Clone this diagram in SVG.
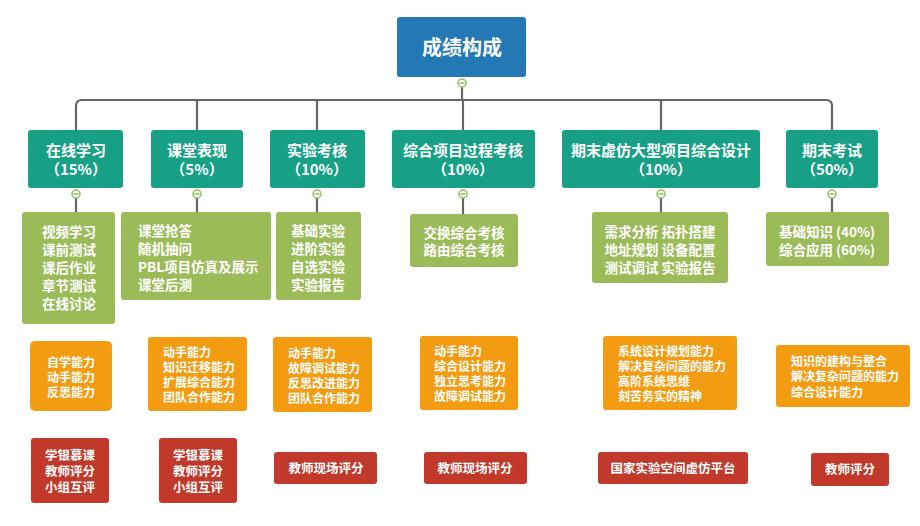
<svg xmlns="http://www.w3.org/2000/svg" width="920" height="526" viewBox="0 0 920 526">
<style>
text{font-family:"Noto Sans CJK SC","Microsoft YaHei",sans-serif;font-weight:bold;fill:#fff}
.root rect{fill:#2479B5}
.l1 rect{fill:#17A085}
.l2 rect{fill:#9BBB59}
.l3 rect{fill:#F39C12}
.l4 rect{fill:#C0392B}
.t1{font-size:15px}
.t2{font-size:13.5px}
.t3{font-size:12px}
.t4{font-size:12.5px}
.c{text-anchor:middle}
.conn path{fill:none;stroke:#666;stroke-width:2.2}
.tog circle{fill:#fff;stroke:#8DC25A;stroke-width:1.5}
.tog path{stroke:#8DC25A;stroke-width:1.5}
</style>
<g class="conn">
<path d="M462 86V100"/>
<path d="M76 130V106Q76 100 82 100H826Q832 100 832 106V130"/>
<path d="M197 100V130M317 100V130M463 100V130M661 100V130"/>
<path d="M76 198V212M197 198V212M317 198V212M463 198V214M661 198V212M832 198V212"/>
</g>
<g class="tog">
<circle cx="462" cy="83" r="4"/><path d="M459.5 83H464.5"/>
<circle cx="76" cy="194" r="4"/><path d="M73.5 194H78.5"/>
<circle cx="197" cy="194" r="4"/><path d="M194.5 194H199.5"/>
<circle cx="317" cy="194" r="4"/><path d="M314.5 194H319.5"/>
<circle cx="463" cy="194" r="4"/><path d="M460.5 194H465.5"/>
<circle cx="661" cy="194" r="4"/><path d="M658.5 194H663.5"/>
<circle cx="832" cy="194" r="4"/><path d="M829.5 194H834.5"/>
</g>
<g id="root" class="root"><rect x="397" y="17" width="129" height="60" rx="3"/><text class="c" x="462" y="55" font-size="20">成绩构成</text></g>
<g id="n1" class="l1"><rect x="28" y="130" width="95" height="58" rx="3"/><text class="t1 c" x="76" y="156">在线学习</text><text class="t1 c" x="76" y="175">（15%）</text></g>
<g id="n2" class="l1"><rect x="151" y="130" width="92" height="58" rx="3"/><text class="t1 c" x="197" y="156">课堂表现</text><text class="t1 c" x="197" y="175">（5%）</text></g>
<g id="n3" class="l1"><rect x="270" y="130" width="95" height="58" rx="3"/><text class="t1 c" x="317" y="156">实验考核</text><text class="t1 c" x="317" y="175">（10%）</text></g>
<g id="n4" class="l1"><rect x="392" y="130" width="143" height="58" rx="3"/><text class="t1 c" x="463" y="156">综合项目过程考核</text><text class="t1 c" x="463" y="175">（10%）</text></g>
<g id="n5" class="l1"><rect x="562" y="130" width="198" height="58" rx="3"/><text class="t1 c" x="661" y="156">期末虚仿大型项目综合设计</text><text class="t1 c" x="661" y="175">（10%）</text></g>
<g id="n6" class="l1"><rect x="786" y="130" width="92" height="58" rx="3"/><text class="t1 c" x="832" y="156">期末考试</text><text class="t1 c" x="832" y="175">（50%）</text></g>

<g id="g1" class="l2"><rect x="22" y="212" width="93" height="112" rx="3"/><text class="t2 c" x="69"><tspan x="69" y="237">视频学习</tspan><tspan x="69" y="255">课前测试</tspan><tspan x="69" y="273">课后作业</tspan><tspan x="69" y="291">章节测试</tspan><tspan x="69" y="309">在线讨论</tspan></text></g>
<g id="g2" class="l2"><rect x="121" y="212" width="150" height="88" rx="3"/><text class="t2"><tspan x="138" y="236">课堂抢答</tspan><tspan x="138" y="254">随机抽问</tspan><tspan x="138" y="272">PBL项目仿真及展示</tspan><tspan x="138" y="290">课堂后测</tspan></text></g>
<g id="g3" class="l2"><rect x="276" y="212" width="85" height="88" rx="3"/><text class="t2 c"><tspan x="318" y="236">基础实验</tspan><tspan x="318" y="254">进阶实验</tspan><tspan x="318" y="272">自选实验</tspan><tspan x="318" y="290">实验报告</tspan></text></g>
<g id="g4" class="l2"><rect x="410" y="214" width="108" height="53" rx="3"/><text class="t2 c"><tspan x="464" y="238">交换综合考核</tspan><tspan x="464" y="255">路由综合考核</tspan></text></g>
<g id="g5" class="l2"><rect x="592" y="212" width="136" height="71" rx="3"/><text class="t2 c"><tspan x="660" y="237">需求分析 拓扑搭建</tspan><tspan x="660" y="255">地址规划 设备配置</tspan><tspan x="660" y="273">测试调试 实验报告</tspan></text></g>
<g id="g6" class="l2"><rect x="766" y="212" width="123" height="54" rx="3"/><text class="t2 c"><tspan x="827" y="237">基础知识 (40%)</tspan><tspan x="827" y="255">综合应用 (60%)</tspan></text></g>

<g id="o1" class="l3"><rect x="30" y="341" width="82" height="70" rx="5"/><text class="t3 c"><tspan x="71" y="367">自学能力</tspan><tspan x="71" y="382">动手能力</tspan><tspan x="71" y="397">反思能力</tspan></text></g>
<g id="o2" class="l3"><rect x="148" y="337" width="99" height="74" rx="3"/><text class="t3"><tspan x="163" y="357">动手能力</tspan><tspan x="163" y="372">知识迁移能力</tspan><tspan x="163" y="387">扩展综合能力</tspan><tspan x="163" y="402">团队合作能力</tspan></text></g>
<g id="o3" class="l3"><rect x="273" y="337" width="99" height="75" rx="3"/><text class="t3"><tspan x="288" y="358">动手能力</tspan><tspan x="288" y="373">故障调试能力</tspan><tspan x="288" y="388">反思改进能力</tspan><tspan x="288" y="403">团队合作能力</tspan></text></g>
<g id="o4" class="l3"><rect x="420" y="336" width="98" height="74" rx="3"/><text class="t3"><tspan x="434" y="356">动手能力</tspan><tspan x="434" y="371">综合设计能力</tspan><tspan x="434" y="386">独立思考能力</tspan><tspan x="434" y="401">故障调试能力</tspan></text></g>
<g id="o5" class="l3"><rect x="603" y="336" width="134" height="74" rx="3"/><text class="t3"><tspan x="618" y="356">系统设计规划能力</tspan><tspan x="618" y="371">解决复杂问题的能力</tspan><tspan x="618" y="386">高阶系统思维</tspan><tspan x="618" y="401">刻苦务实的精神</tspan></text></g>
<g id="o6" class="l3"><rect x="776" y="345" width="134" height="62" rx="3"/><text class="t3"><tspan x="791" y="366">知识的建构与整合</tspan><tspan x="791" y="381">解决复杂问题的能力</tspan><tspan x="791" y="397">综合设计能力</tspan></text></g>

<g id="r1" class="l4"><rect x="31" y="438" width="78" height="65" rx="3"/><text class="t4 c"><tspan x="70" y="460">学银慕课</tspan><tspan x="70" y="476">教师评分</tspan><tspan x="70" y="492">小组互评</tspan></text></g>
<g id="r2" class="l4"><rect x="159" y="438" width="78" height="65" rx="3"/><text class="t4 c"><tspan x="198" y="460">学银慕课</tspan><tspan x="198" y="476">教师评分</tspan><tspan x="198" y="492">小组互评</tspan></text></g>
<g id="r3" class="l4"><rect x="274" y="452" width="103" height="32" rx="3"/><text class="t4 c" x="326" y="473">教师现场评分</text></g>
<g id="r4" class="l4"><rect x="424" y="452" width="103" height="32" rx="3"/><text class="t4 c" x="475" y="473">教师现场评分</text></g>
<g id="r5" class="l4"><rect x="598" y="452" width="150" height="32" rx="3"/><text class="t4 c" x="673" y="473">国家实验空间虚仿平台</text></g>
<g id="r6" class="l4"><rect x="811" y="453" width="78" height="33" rx="3"/><text class="t4 c" x="850" y="474">教师评分</text></g>
</svg>
